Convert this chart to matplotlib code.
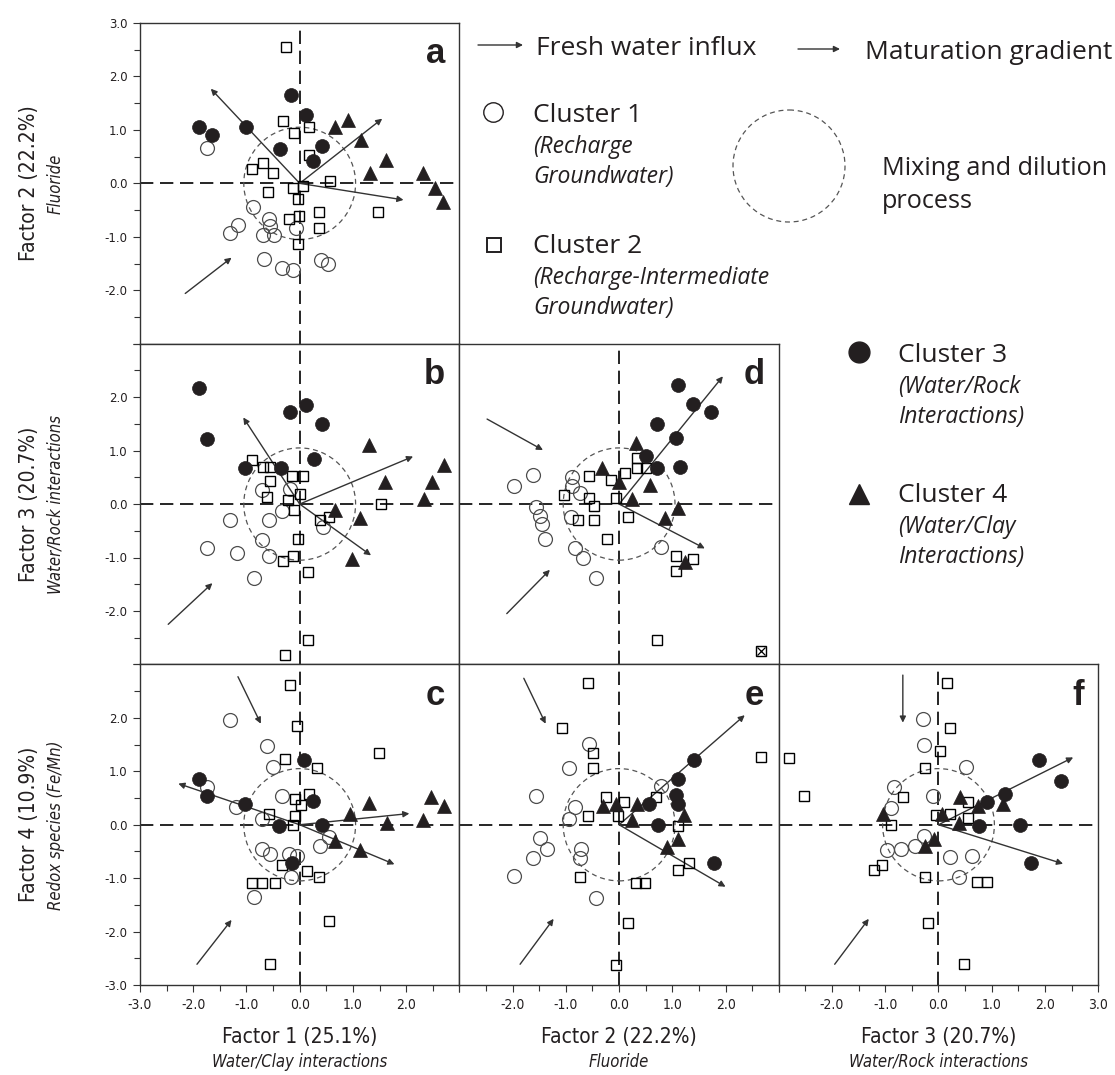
import matplotlib
matplotlib.use('Agg')
import matplotlib.pyplot as plt
from matplotlib.patches import Circle
from matplotlib.ticker import MultipleLocator

# factor scores as (x, y) pairs, one list per cluster for every panel
# panel a: Factor 1 vs Factor 2
a_c1 = [(-1.74, 0.67), (-0.87, -0.44), (-1.15, -0.78), (-1.30, -0.93), (-0.58, -0.66),
        (-0.55, -0.80), (-0.69, -0.97), (-0.49, -0.97), (-0.07, -0.84), (-0.68, -1.41),
        (-0.34, -1.59), (-0.13, -1.63), (0.40, -1.44), (0.54, -1.50)]
a_c2 = [(-0.26, 2.56), (-0.31, 1.16), (-0.10, 0.95), (0.17, 1.06), (0.17, 0.53),
        (-0.89, 0.26), (-0.69, 0.39), (-0.50, 0.20), (-0.60, -0.16), (-0.13, -0.09),
        (0.07, -0.05), (-0.04, -0.30), (0.56, 0.05), (0.37, -0.53), (0.37, -0.83),
        (-0.21, -0.66), (-0.02, -0.61), (-0.04, -1.13), (1.48, -0.53)]
a_c3 = [(-1.90, 1.06), (-1.65, 0.91), (-1.01, 1.06), (-0.17, 1.66), (0.12, 1.28),
        (-0.37, 0.64), (0.41, 0.69), (0.25, 0.41)]
a_c4 = [(0.66, 1.06), (0.91, 1.19), (1.16, 0.81), (1.62, 0.44), (1.32, 0.19),
        (2.31, 0.19), (2.54, -0.09), (2.70, -0.34)]
a_fresh = [(-2.15, -2.06, -1.28, -1.39)]
a_grad = [(-1.67, 1.77), (1.55, 1.21), (1.95, -0.31)]

# panel b: Factor 1 vs Factor 3
b_c1 = [(-0.70, 0.26), (-0.18, 0.29), (-0.33, -0.13), (-1.30, -0.30), (-0.58, -0.30),
        (0.44, -0.43), (-0.70, -0.68), (-1.75, -0.83), (-1.18, -0.91), (-0.58, -0.98),
        (-0.86, -1.38)]
b_c2 = [(-0.89, 0.83), (-0.69, 0.70), (-0.56, 0.70), (-0.55, 0.44), (-0.14, 0.53),
        (0.06, 0.53), (-0.61, 0.13), (-0.22, 0.08), (0.00, 0.19), (-0.11, -0.11),
        (0.38, -0.30), (0.55, -0.24), (1.53, 0.00), (-0.04, -0.66), (-0.13, -0.98),
        (-0.31, -1.06), (0.16, -1.27), (0.16, -2.54), (-0.27, -2.83)]
b_c3 = [(-1.89, 2.17), (-1.75, 1.22), (-0.18, 1.73), (0.11, 1.86), (0.41, 1.49),
        (0.26, 0.84), (-1.02, 0.68), (-0.36, 0.68)]
b_c4 = [(1.31, 1.11), (1.61, 0.42), (2.72, 0.73), (2.48, 0.42), (2.33, 0.09),
        (0.67, -0.11), (1.14, -0.27), (0.99, -1.02)]
b_fresh = [(-2.47, -2.25, -1.64, -1.48)]
b_grad = [(-1.06, 1.62), (2.13, 0.89), (1.34, -0.96)]

# panel c: Factor 1 vs Factor 4
c_c1 = [(-1.31, 1.96), (-0.61, 1.48), (-0.50, 1.08), (-1.74, 0.70), (-1.19, 0.33),
        (-0.34, 0.53), (-0.70, 0.11), (0.55, -0.22), (0.39, -0.39), (-0.70, -0.46),
        (-0.55, -0.54), (-0.20, -0.54), (-0.05, -0.58), (-0.16, -0.97), (-0.86, -1.36)]
c_c2 = [(-0.18, 2.61), (-0.05, 1.84), (-0.27, 1.23), (0.33, 1.07), (1.49, 1.34),
        (0.18, 0.58), (-0.08, 0.48), (0.03, 0.37), (-0.58, 0.21), (-0.08, 0.17),
        (-0.13, -0.01), (-0.34, -0.76), (0.13, -0.87), (0.36, -0.97), (-0.89, -1.09),
        (-0.71, -1.09), (-0.46, -1.09), (0.55, -1.81), (-0.56, -2.61)]
c_c3 = [(-1.89, 0.86), (-1.74, 0.53), (-1.03, 0.39), (0.09, 1.22), (0.25, 0.44),
        (-0.38, -0.03), (0.41, 0.00), (-0.14, -0.72)]
c_c4 = [(0.95, 0.21), (1.31, 0.41), (1.64, 0.03), (2.31, 0.09), (2.47, 0.52),
        (2.72, 0.35), (0.66, -0.31), (1.14, -0.48)]
c_fresh = [(-1.16, 2.77, -0.73, 1.89), (-1.93, -2.61, -1.28, -1.78)]
c_grad = [(-2.28, 0.77), (1.78, -0.74), (2.06, 0.21)]

# panel d: Factor 2 vs Factor 3
d_c1 = [(-1.98, 0.33), (-1.61, 0.54), (-1.56, -0.05), (-1.48, -0.22), (-1.44, -0.38),
        (-1.39, -0.66), (-0.88, 0.51), (-0.89, 0.33), (-0.74, 0.21), (-0.91, -0.24),
        (-0.83, -0.83), (-0.68, -1.00), (-0.43, -1.38), (0.79, -0.80)]
d_c2 = [(-0.57, 0.53), (-0.16, 0.45), (0.11, 0.59), (0.33, 0.86), (0.33, 0.67),
        (0.50, 0.68), (-1.04, 0.17), (-0.56, 0.11), (-0.47, -0.03), (-0.05, 0.12),
        (-0.78, -0.30), (-0.47, -0.30), (0.17, -0.24), (-0.23, -0.66), (1.06, -0.97),
        (1.38, -1.02), (1.06, -1.26), (0.71, -2.54)]
d_c3 = [(1.11, 2.22), (1.39, 1.87), (1.73, 1.73), (0.71, 1.49), (1.06, 1.23),
        (0.51, 0.90), (0.71, 0.68), (1.14, 0.70)]
d_c4 = [(0.31, 1.14), (-0.32, 0.68), (0.00, 0.42), (0.58, 0.36), (0.25, 0.09),
        (1.11, -0.08), (0.87, -0.27), (1.23, -1.08)]
d_marked = [(2.67, -2.74)]
d_fresh = [(-2.48, 1.59, -1.43, 1.01), (-2.11, -2.05, -1.30, -1.23)]
d_grad = [(1.95, 2.39), (1.61, -0.83)]

# panel e: Factor 2 vs Factor 4
e_c1 = [(-0.56, 1.52), (-0.94, 1.07), (-1.56, 0.53), (-0.82, 0.33), (-0.94, 0.11),
        (-1.49, -0.24), (-1.36, -0.45), (-1.61, -0.62), (-1.98, -0.95), (-0.71, -0.46),
        (-0.74, -0.62), (-0.44, -1.37), (0.79, 0.73)]
e_c2 = [(-0.58, 2.66), (-1.08, 1.81), (-0.49, 1.34), (-0.49, 1.07), (-0.25, 0.52),
        (0.09, 0.43), (0.70, 0.51), (-0.58, 0.16), (-0.03, 0.16), (1.11, -0.03),
        (1.31, -0.72), (1.11, -0.84), (-0.74, -0.98), (0.31, -1.09), (0.49, -1.09),
        (0.16, -1.83), (-0.06, -2.63), (2.67, 1.27)]
e_c3 = [(1.41, 1.22), (1.11, 0.86), (1.06, 0.56), (1.11, 0.38), (0.56, 0.38),
        (0.73, 0.00), (1.78, -0.72)]
e_c4 = [(-0.30, 0.36), (-0.05, 0.39), (0.33, 0.39), (0.25, 0.09), (1.22, 0.19),
        (1.11, -0.26), (0.90, -0.41)]
e_fresh = [(-1.79, 2.74, -1.38, 1.89), (-1.86, -2.61, -1.23, -1.76)]
e_grad = [(2.36, 2.05), (2.00, -1.16)]

# panel f: Factor 3 vs Factor 4
f_c1 = [(-0.30, 1.97), (-0.28, 1.49), (0.51, 1.08), (-0.84, 0.71), (-0.89, 0.32),
        (-0.11, 0.53), (-0.28, -0.21), (-0.97, -0.48), (-0.70, -0.46), (-0.45, -0.39),
        (0.22, -0.61), (0.63, -0.59), (0.39, -0.98)]
f_c2 = [(0.16, 2.66), (0.22, 1.81), (0.03, 1.38), (-0.25, 1.07), (-0.67, 0.52),
        (-2.81, 1.25), (-2.53, 0.53), (0.55, 0.43), (0.22, 0.21), (-0.04, 0.18),
        (0.56, 0.13), (-0.89, 0.00), (-1.06, -0.75), (-1.22, -0.84), (-0.25, -0.98),
        (0.72, -1.08), (0.91, -1.08), (-0.20, -1.83), (0.48, -2.61)]
f_c3 = [(1.89, 1.21), (2.31, 0.82), (1.25, 0.58), (0.91, 0.43), (0.76, -0.03),
        (1.53, 0.00), (1.74, -0.72)]
f_c4 = [(0.41, 0.52), (0.75, 0.35), (1.21, 0.39), (0.06, 0.21), (0.38, 0.04),
        (-1.04, 0.21), (-0.09, -0.26), (-0.26, -0.39)]
f_fresh = [(-0.67, 2.80, -0.67, 1.91), (-1.95, -2.61, -1.31, -1.76)]
f_grad = [(2.53, 1.26), (2.34, -0.73)]

factor_names = ['Factor 1 (25.1%)', 'Factor 2 (22.2%)', 'Factor 3 (20.7%)', 'Factor 4 (10.9%)']
factor_meaning = ['Water/Clay interactions', 'Fluoride', 'Water/Rock interactions',
                  'Redox species (Fe/Mn)']
ticks = [-3, -2, -1, 0, 1, 2, 3]
mix_radius = 1.05

NARROW = dict(family='DejaVu Sans', stretch='condensed')
TEXT = ['Open Sans', 'DejaVu Sans']
INK = '#231f20'

W, H = 1115, 1075
fig = plt.figure(figsize=(W / 100, H / 100), dpi=100)

# pixel grid of the triangular panel matrix
left0, top0, pw, ph = 140, 23, 319.4, 320.7


def panel_axes(row, col):
    l = (left0 + col * pw) / W
    b = 1 - (top0 + (row + 1) * ph) / H
    return fig.add_axes([l, b, pw / W, ph / H])


def arrow(ax, x0, y0, x1, y1, lw=1.0, ms=9):
    ax.annotate('', xy=(x1, y1), xytext=(x0, y0),
                arrowprops=dict(arrowstyle='-|>', color='#333333', lw=lw,
                                mutation_scale=ms, shrinkA=0, shrinkB=0),
                annotation_clip=False)


def xy(pts):
    return [p[0] for p in pts], [p[1] for p in pts]


def draw_panel(ax, letter, c1, c2, c3, c4, fresh, grad):
    ax.set_xlim(-3, 3)
    ax.set_ylim(-3, 3)
    ax.axhline(0, color='black', lw=1.2, ls=(0, (8, 4)), zorder=1)
    ax.axvline(0, color='black', lw=1.2, ls=(0, (8, 4)), zorder=1)
    ax.add_patch(Circle((0, 0), mix_radius, fill=False, ec='#555555', lw=0.9,
                        ls=(0, (4, 3)), zorder=2))
    for x0, y0, x1, y1 in fresh:
        arrow(ax, x0, y0, x1, y1)
    for x1, y1 in grad:
        arrow(ax, 0, 0, x1, y1)
    x, y = xy(c1)
    ax.plot(x, y, 'o', ms=10, mfc='none', mec='#4d4d4d', mew=0.9, clip_on=False, zorder=3)
    x, y = xy(c2)
    ax.plot(x, y, 's', ms=7.6, mfc='none', mec='black', mew=1.0, clip_on=False, zorder=3)
    x, y = xy(c3)
    ax.plot(x, y, 'o', ms=10, mfc=INK, mec=INK, mew=0.5, clip_on=False, zorder=4)
    x, y = xy(c4)
    ax.plot(x, y, '^', ms=9.5, mfc=INK, mec=INK, mew=0.5, clip_on=False, zorder=4)
    ax.text(0.955, 0.955, letter, transform=ax.transAxes, ha='right', va='top',
            fontsize=25, fontweight='bold', family=['Liberation Sans', 'DejaVu Sans'],
            color=INK)
    for s in ax.spines.values():
        s.set_color('#333333')
        s.set_linewidth(1.0)
    ax.xaxis.set_minor_locator(MultipleLocator(0.5))
    ax.yaxis.set_minor_locator(MultipleLocator(0.5))
    ax.set_xticks(ticks)
    ax.set_yticks(ticks)
    ax.tick_params(which='both', direction='out', color='#333333', width=0.8,
                   left=False, bottom=False, labelleft=False, labelbottom=False)
    ax.tick_params(which='major', length=5)
    ax.tick_params(which='minor', length=4)


panels = [
    ('a', 0, 0, a_c1, a_c2, a_c3, a_c4, a_fresh, a_grad),
    ('b', 1, 0, b_c1, b_c2, b_c3, b_c4, b_fresh, b_grad),
    ('c', 2, 0, c_c1, c_c2, c_c3, c_c4, c_fresh, c_grad),
    ('d', 1, 1, d_c1, d_c2, d_c3, d_c4, d_fresh, d_grad),
    ('e', 2, 1, e_c1, e_c2, e_c3, e_c4, e_fresh, e_grad),
    ('f', 2, 2, f_c1, f_c2, f_c3, f_c4, f_fresh, f_grad),
]

axes = {}
for letter, row, col, c1, c2, c3, c4, fresh, grad in panels:
    ax = panel_axes(row, col)
    draw_panel(ax, letter, c1, c2, c3, c4, fresh, grad)
    axes[letter] = ax

# the crossed square in panel d
x, y = xy(d_marked)
axes['d'].plot(x, y, 's', ms=7.6, mfc='none', mec='black', mew=1.0, zorder=3)
axes['d'].plot(x, y, 'x', ms=6, mec='black', mew=0.9, zorder=3)


def fmt(v):
    return '%.1f' % v


# y tick labels on the left column
ylabels = {'a': [t for t in ticks if t > -3], 'b': [-2, -1, 0, 1, 2], 'c': [t for t in ticks if t < 3]}
for letter, shown in ylabels.items():
    ax = axes[letter]
    ax.set_yticklabels([fmt(t) if t in shown else '' for t in ticks],
                       fontsize=8.5, family='DejaVu Sans', color=INK)
    ax.tick_params(which='both', left=True, labelleft=True, pad=4)

# x tick labels on the bottom row
xlabels = {'c': [t for t in ticks if t < 3], 'e': [-2, -1, 0, 1, 2], 'f': [t for t in ticks if t > -3]}
for letter, shown in xlabels.items():
    ax = axes[letter]
    ax.set_xticklabels([fmt(t) if t in shown else '' for t in ticks],
                       fontsize=10, color=INK, **NARROW)
    ax.tick_params(which='both', bottom=True, labelbottom=True, pad=4)

# factor titles
for i, letter in enumerate(['a', 'b', 'c']):
    yc = top0 + (i + 0.5) * ph
    fig.text(29 / W, 1 - yc / H, factor_names[i + 1], rotation=90, ha='center', va='center',
             fontsize=15, color=INK, **NARROW)
    fig.text(56 / W, 1 - yc / H, factor_meaning[i + 1], rotation=90, ha='center', va='center',
             fontsize=12, style='italic', color=INK, **NARROW)
for i in range(3):
    xc = left0 + (i + 0.5) * pw
    fig.text(xc / W, 1 - 1037 / H, factor_names[i], ha='center', va='center',
             fontsize=15, color=INK, **NARROW)
    fig.text(xc / W, 1 - 1062 / H, factor_meaning[i], ha='center', va='center',
             fontsize=12, style='italic', color=INK, **NARROW)

# key, laid out in pixel units
key = fig.add_axes([0, 0, 1, 1], zorder=-1)
key.set_xlim(0, W)
key.set_ylim(H, 0)
key.axis('off')

arrow(key, 478, 45, 523, 45, lw=1.0, ms=9)
key.text(536, 55, 'Fresh water influx', fontsize=19, family=TEXT, color=INK, va='baseline')
arrow(key, 798, 49, 840, 49, lw=1.0, ms=9)
key.text(865, 59, 'Maturation gradient', fontsize=19, family=TEXT, color=INK, va='baseline')

key.plot([493], [112], 'o', ms=14, mfc='none', mec=INK, mew=1.0)
key.plot([494], [245], 's', ms=10.5, mfc='none', mec=INK, mew=1.4)
key.plot([859], [352], 'o', ms=15, mfc=INK, mec=INK)
key.plot([859], [494], '^', ms=15, mfc=INK, mec=INK)
key.add_patch(Circle((789, 166), 56, fill=False, ec='#555555', lw=0.9, ls=(0, (4, 3))))

entries = [
    (533, 122, 'Cluster 1', ['(Recharge', 'Groundwater)']),
    (533, 253, 'Cluster 2', ['(Recharge-Intermediate', 'Groundwater)']),
    (898, 362, 'Cluster 3', ['(Water/Rock', 'Interactions)']),
    (898, 502, 'Cluster 4', ['(Water/Clay', 'Interactions)']),
]
for x0, base, title, sub in entries:
    key.text(x0, base, title, fontsize=19, family=TEXT, color=INK, va='baseline')
    for j, line in enumerate(sub):
        key.text(x0, base + 31 + 30 * j, line, fontsize=16.5, family=TEXT, style='italic',
                 color=INK, va='baseline')

key.text(882, 175, 'Mixing and dilution', fontsize=18.2, family=TEXT, color=INK, va='baseline')
key.text(882, 208, 'process', fontsize=18.2, family=TEXT, color=INK, va='baseline')

fig.savefig('out.png', dpi=100)
